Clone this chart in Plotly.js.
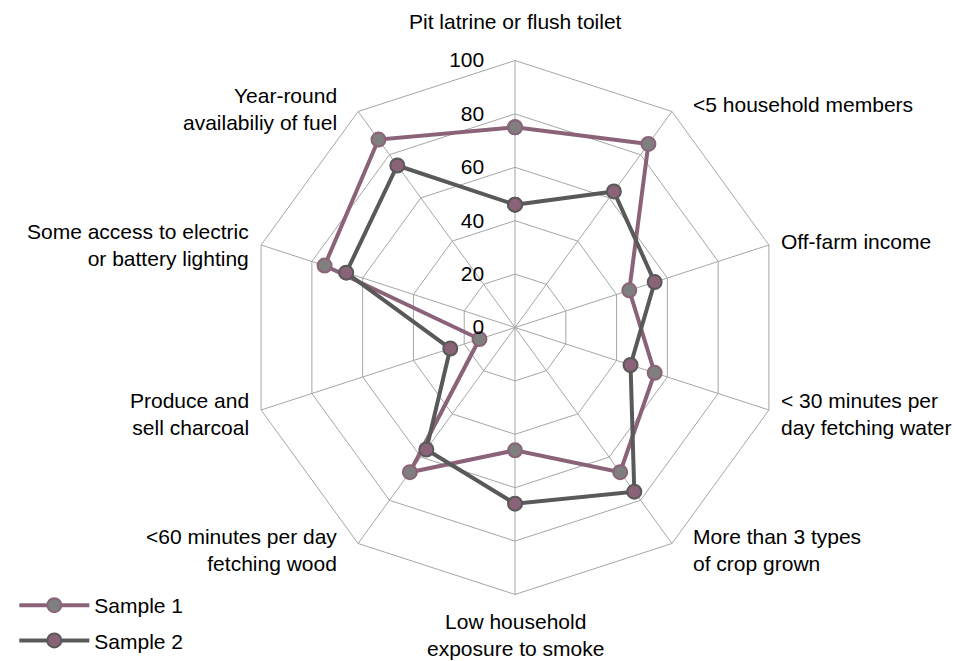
<!DOCTYPE html>
<html>
<head>
<meta charset="utf-8">
<script src="https://cdn.plot.ly/plotly-3.0.1.min.js"></script>
<style>html,body{margin:0;padding:0;background:#fff;}#chart{width:954px;height:661px;}</style>
</head>
<body>
<div id="chart"></div>
<script>
const categories = [
  "Pit latrine or flush toilet",
  "<5 household members",
  "Off-farm income",
  "< 30 minutes per<br>day fetching water",
  "More than 3 types<br>of crop grown",
  "Low household<br>exposure to smoke",
  "<60 minutes per day<br>fetching wood",
  "Produce and<br>sell charcoal",
  "Some access to electric<br>or battery lighting",
  "Year-round<br>availabiliy of fuel"
];
const sample1 = [75, 85, 45, 55, 67, 46, 67, 14, 75, 87];
const sample2 = [46, 63, 55, 45.5, 76, 66, 56.5, 25.5, 66.5, 75];
const radialTicks = [0, 20, 40, 60, 80, 100];

const mauve = "#8B6379";
const dark = "#595959";
const gray = "#7F7F7F";

const W = 954, H = 661;
const domX = [0.26, 0.8197], domY = [0.1006, 0.9085];

function closed(a) { return a.concat([a[0]]); }

const traces = [
  {
    type: "scatterpolar", name: "Sample 1", legendgroup: "a",
    r: closed(sample1), theta: closed(categories),
    mode: "lines+markers",
    line: {color: mauve, width: 4},
    marker: {size: 14, color: gray, line: {color: mauve, width: 2}}
  },
  {
    type: "scatterpolar", name: "Sample 2", legendgroup: "b",
    r: closed(sample2), theta: closed(categories),
    mode: "lines+markers",
    line: {color: dark, width: 4},
    marker: {size: 14, color: mauve, line: {color: dark, width: 2}}
  }
];

// category labels placed as annotations around the polygon
const cx = (domX[0] + domX[1]) / 2 * W;
const cy = H - (domY[0] + domY[1]) / 2 * H;
const R = Math.min((domX[1] - domX[0]) * W, (domY[1] - domY[0]) * H) / 2;
const n = categories.length;
const annotations = categories.map((c, i) => {
  const th = (90 - i * 360 / n) * Math.PI / 180;
  const cs = Math.cos(th), sn = Math.sin(th);
  const vx = cx + R * cs, vy = cy - R * sn;
  const lines = c.split("<br>").length;
  let ax, ay, xa, ya;
  if (Math.abs(cs) < 0.1) {
    xa = "center"; ax = vx;
    if (sn > 0) { ya = "bottom"; ay = vy - 26; } else { ya = "top"; ay = vy + 14; }
  } else {
    xa = cs > 0 ? "left" : "right";
    ax = vx + Math.sign(cs) * (9 + 16 * sn * sn);
    ya = "middle"; ay = vy - 6 * sn + (lines > 1 ? 2 : -2);
  }
  return {
    text: c, xref: "paper", yref: "paper", x: ax / W, y: 1 - ay / H,
    xanchor: xa, yanchor: ya, showarrow: false, align: xa === "right" ? "right" : (xa === "left" ? "left" : "center"),
    font: {size: 21, color: "#000"}
  };
});

const layout = {
  width: W, height: H,
  margin: {l: 0, r: 0, t: 0, b: 0},
  paper_bgcolor: "#fff",
  font: {family: "Liberation Sans, Arial, sans-serif", size: 21, color: "#000"},
  showlegend: true,
  legend: {x: 0.015, y: 0, xanchor: "left", yanchor: "bottom", itemwidth: 70, tracegroupgap: 5,
           font: {size: 21, color: "#000"}, bgcolor: "rgba(0,0,0,0)"},
  annotations: annotations,
  polar: {
    domain: {x: domX, y: domY},
    gridshape: "linear",
    bgcolor: "#fff",
    angularaxis: {
      rotation: 90, direction: "clockwise",
      showline: true, linecolor: "#A6A6A6", linewidth: 1,
      gridcolor: "#A6A6A6", gridwidth: 1,
      showticklabels: false, ticks: ""
    },
    radialaxis: {
      range: [0, 100], angle: 90, side: "counterclockwise",
      tickvals: radialTicks, ticktext: radialTicks.map(String),
      showline: false, gridcolor: "#A6A6A6", gridwidth: 1,
      ticks: "outside", ticklen: 23, tickcolor: "rgba(0,0,0,0)",
      tickangle: 90,
      tickfont: {size: 21, color: "#000"}
    }
  }
};

Plotly.newPlot("chart", traces, layout, {displayModeBar: false, staticPlot: true});
</script>
</body>
</html>
